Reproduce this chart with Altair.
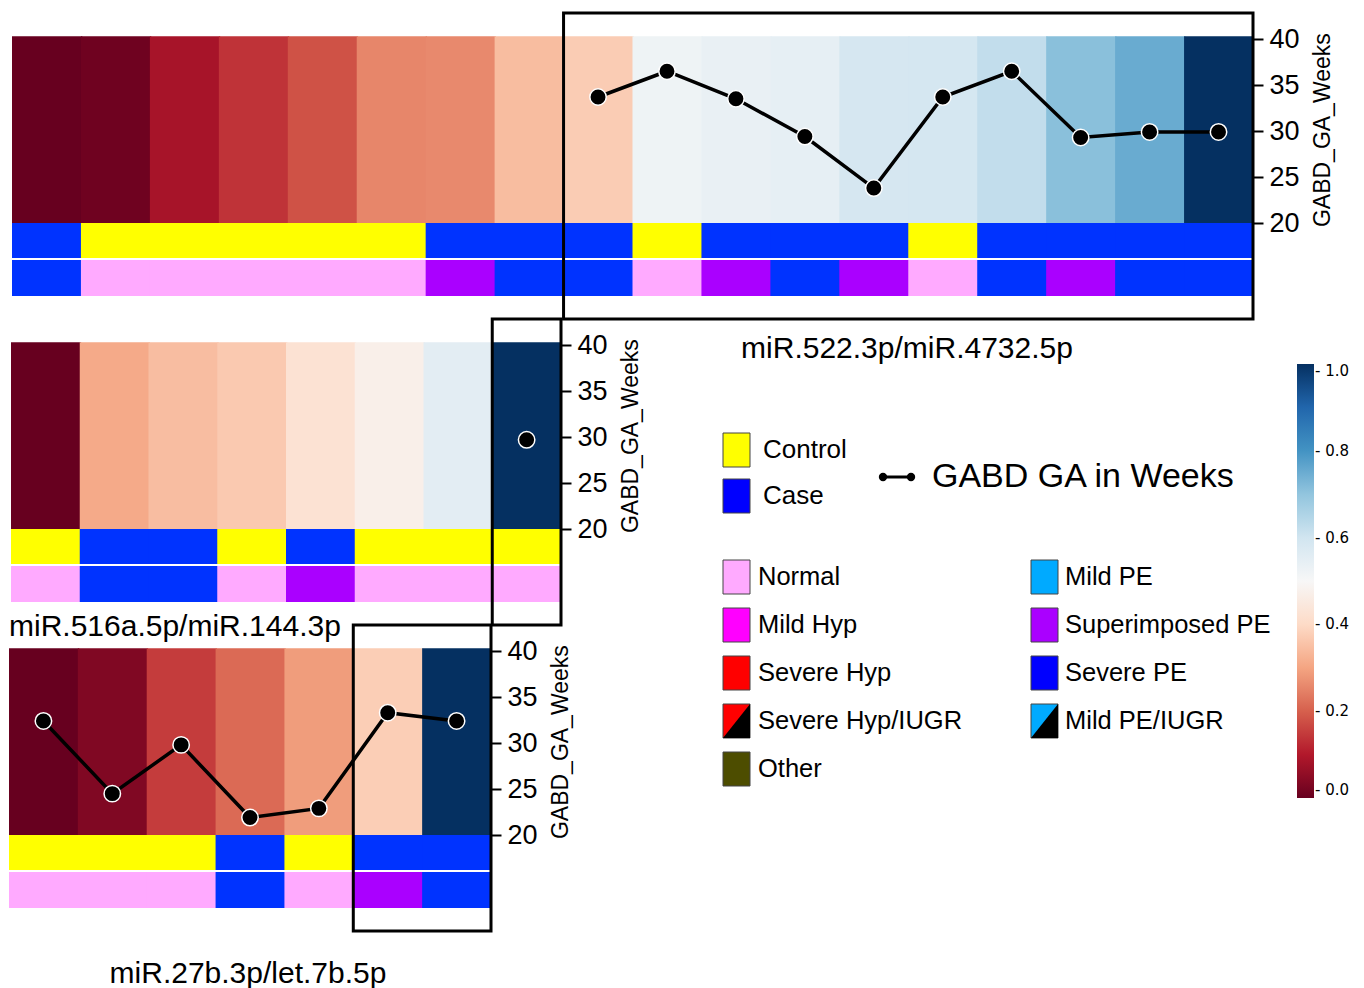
import altair as alt
import pandas as pd

# ---------------- data ----------------
P1_TITLE = "miR.522.3p/miR.4732.5p"
P1_HEAT = [0.0, 0.01, 0.085, 0.137, 0.18, 0.255, 0.26, 0.344, 0.372,
           0.524, 0.537, 0.545, 0.587, 0.59, 0.624, 0.71, 0.752, 1.0]
P1_GROUP = ["Case", "Control", "Control", "Control", "Control", "Control",
            "Case", "Case", "Case", "Control", "Case", "Case", "Case",
            "Control", "Case", "Case", "Case", "Case"]
P1_DIAG = ["Severe PE", "Normal", "Normal", "Normal", "Normal", "Normal",
           "Superimposed PE", "Severe PE", "Severe PE", "Normal",
           "Superimposed PE", "Severe PE", "Superimposed PE", "Normal",
           "Severe PE", "Superimposed PE", "Severe PE", "Severe PE"]
P1_GA = [None, None, None, None, None, None, None, None,
         33.7, 36.5, 33.5, 29.4, 23.8, 33.7, 36.5, 29.3, 29.9, 29.9]
P1_HIGHLIGHT = [9, 18]

P2_TITLE = "miR.516a.5p/miR.144.3p"
P2_HEAT = [0.0, 0.31, 0.345, 0.367, 0.425, 0.47, 0.553, 1.0]
P2_GROUP = ["Control", "Case", "Case", "Control", "Case", "Control", "Control", "Control"]
P2_DIAG = ["Normal", "Severe PE", "Severe PE", "Normal", "Superimposed PE",
           "Normal", "Normal", "Normal"]
P2_GA = [None, None, None, None, None, None, None, 29.7]
P2_HIGHLIGHT = [8, 8]

P3_TITLE = "miR.27b.3p/let.7b.5p"
P3_HEAT = [0.0, 0.033, 0.15, 0.215, 0.288, 0.375, 1.0]
P3_GROUP = ["Control", "Control", "Control", "Case", "Control", "Case", "Case"]
P3_DIAG = ["Normal", "Normal", "Normal", "Severe PE", "Normal", "Superimposed PE", "Severe PE"]
P3_GA = [32.4, 24.5, 29.8, 21.9, 22.9, 33.3, 32.4]
P3_HIGHLIGHT = [6, 7]

GA_TICKS = [20, 25, 30, 35, 40]
GA_AXIS_TITLE = "GABD_GA_Weeks"
CBAR_TICKS = [0.0, 0.2, 0.4, 0.6, 0.8, 1.0]

GROUP_LABELS = ["Control", "Case"]
DIAG_LABELS_LEFT = ["Normal", "Mild Hyp", "Severe Hyp", "Severe Hyp/IUGR", "Other"]
DIAG_LABELS_RIGHT = ["Mild PE", "Superimposed PE", "Severe PE", "Mild PE/IUGR"]
IUGR_LABELS = ["Severe Hyp/IUGR", "Mild PE/IUGR"]
LINE_LEGEND_LABEL = "GABD GA in Weeks"

# ---------------- styles ----------------
FONT = "Liberation Sans"
RDBU = ["#67001f", "#b2182b", "#d6604d", "#f4a582", "#fddbc7", "#f7f7f7",
        "#d1e5f0", "#92c5de", "#4393c3", "#2166ac", "#053061"]
RDBU_STOPS = [0.0, 0.1, 0.2, 0.3, 0.4, 0.5, 0.6, 0.7, 0.8, 0.9, 1.0]
STRIP_COLORS = {"Control": "#ffff00", "Case": "#0033ff", "Normal": "#ffaaff",
                "Severe PE": "#0033ff", "Superimposed PE": "#aa00ff"}
LEGEND_COLORS = {"Control": "#ffff00", "Case": "#0000ff", "Normal": "#ffaaff",
                 "Mild Hyp": "#ff00ff", "Severe Hyp": "#ff0000",
                 "Severe Hyp/IUGR": "#ff0000", "Other": "#4d4d00",
                 "Mild PE": "#00aaff", "Superimposed PE": "#aa00ff",
                 "Severe PE": "#0000ff", "Mild PE/IUGR": "#00aaff"}

# ---------------- layout ----------------
PANEL_H = 306
Y_DOMAIN = [9.57, 42.83]
HEAT_TOP, HEAT_BOT = 40.3, 20.0
STRIP1 = (20.0, 16.2)
STRIP2 = (15.98, 12.07)
OVERLAP = 0.02  # hides anti-aliasing seams between adjacent cells
PX_PER_UNIT = PANEL_H / (Y_DOMAIN[1] - Y_DOMAIN[0])
AXIS_TITLE_Y = (Y_DOMAIN[1] - (HEAT_TOP + HEAT_BOT) / 2) * PX_PER_UNIT

COLOR_LEGEND = alt.Legend(
    orient="none", legendX=1288, legendY=351, direction="vertical",
    gradientLength=434, gradientThickness=17, gradientStrokeWidth=0,
    title=None, values=CBAR_TICKS, format=".1f",
    labelExpr="'- ' + datum.label", labelOffset=1, labelBaseline="middle",
    labelFont="DejaVu Sans", labelFontSize=15, labelColor="black",
    labelOverlap=False,
)


def panel_layers(heat, group, diag, ga, hl, width, lpad):
    n = len(heat)
    df = pd.DataFrame({"col": list(range(1, n + 1)), "heat": heat,
                       "group": group, "diag": diag, "ga": ga})
    df["x0"] = df["col"] - 0.5
    df["x1"] = (df["col"] + 0.5 + OVERLAP).clip(upper=n + 0.5)
    df["gfill"] = df["group"].map(STRIP_COLORS)
    df["dfill"] = df["diag"].map(STRIP_COLORS)
    cw = (width - lpad) / n
    xs = alt.Scale(domain=[0.5 - lpad / cw, n + 0.5], nice=False, zero=False)
    ys = alt.Scale(domain=Y_DOMAIN, nice=False, zero=False)
    axis = alt.Axis(orient="right", values=GA_TICKS, title=GA_AXIS_TITLE,
                    titleAngle=270, titleBaseline="top", titlePadding=12,
                    titleY=AXIS_TITLE_Y,
                    titleFont=FONT, titleFontSize=23, titleFontWeight="normal",
                    titleColor="black", labelFont=FONT, labelFontSize=27,
                    labelColor="black", tickColor="black", tickWidth=2,
                    tickSize=10, labelPadding=6, domain=False, grid=False)
    base = alt.Chart(df)

    heat_l = base.mark_rect().encode(
        x=alt.X("x0:Q", scale=xs, axis=None), x2="x1",
        y=alt.YDatum(HEAT_TOP, scale=ys, axis=axis), y2=alt.Y2Datum(HEAT_BOT),
        color=alt.Color("heat:Q",
                        scale=alt.Scale(domain=RDBU_STOPS, range=RDBU, interpolate="rgb"),
                        legend=COLOR_LEGEND),
    )
    s1 = base.mark_rect().encode(
        x="x0:Q", x2="x1",
        y=alt.YDatum(STRIP1[0], scale=ys, axis=axis), y2=alt.Y2Datum(STRIP1[1]),
        fill=alt.Fill("gfill:N", scale=None),
    )
    s2 = base.mark_rect().encode(
        x="x0:Q", x2="x1",
        y=alt.YDatum(STRIP2[0], scale=ys, axis=axis), y2=alt.Y2Datum(STRIP2[1]),
        fill=alt.Fill("dfill:N", scale=None),
    )
    gab = base.transform_filter("isValid(datum.ga)")
    line = gab.mark_line(color="black", strokeWidth=3.5).encode(
        x="col:Q", y=alt.Y("ga:Q", scale=ys, axis=axis),
    )
    pts = gab.mark_circle(color="black", opacity=1, size=270, stroke="white",
                          strokeWidth=1.5).encode(
        x="col:Q", y=alt.Y("ga:Q", scale=ys, axis=axis))
    hl_df = pd.DataFrame({"x0": [hl[0] - 0.5], "x1": [hl[1] + 0.5]})
    hl_l = alt.Chart(hl_df).mark_rect(fill="transparent", stroke="black",
                                      strokeWidth=3).encode(
        x="x0:Q", x2="x1",
        y=alt.YDatum(Y_DOMAIN[1], scale=ys, axis=axis), y2=alt.Y2Datum(Y_DOMAIN[0]),
    )
    return alt.layer(heat_l, s1, s2, line, pts, hl_l)


def title_params(text, anchor, dx, offset, orient="bottom"):
    return alt.TitleParams(text=text, orient=orient, anchor=anchor,
                           frame="group", dx=dx, offset=offset, font=FONT,
                           fontSize=30, fontWeight="normal", color="black",
                           baseline="top")


# ---------------- legend layers (drawn to the right of the middle panel) ----------------
LEG_X0 = 692          # legend block left edge, relative to the middle panel
LEG_W, LEG_H = 600, 612
SW_W, SW_H = 27, 34
rows = []
for i, lab in enumerate(GROUP_LABELS):
    cy = 131 + i * 46
    rows.append(dict(label=lab, x0=22, cy=cy, tx=62, fs=26))
for i, lab in enumerate(DIAG_LABELS_LEFT):
    cy = 258 + i * 48
    rows.append(dict(label=lab, x0=22, cy=cy, tx=57, fs=25.5))
for i, lab in enumerate(DIAG_LABELS_RIGHT):
    cy = 258 + i * 48
    rows.append(dict(label=lab, x0=330, cy=cy, tx=364, fs=25.5))
leg = pd.DataFrame(rows)
leg["x1"] = leg["x0"] + SW_W
leg["y0"] = leg["cy"] - SW_H / 2
leg["y1"] = leg["cy"] + SW_H / 2
leg["xc"] = leg["x0"] + SW_W / 2
leg["fill"] = leg["label"].map(LEGEND_COLORS)

lxs = alt.Scale(domain=[0, LEG_W], range=[LEG_X0, LEG_X0 + LEG_W], nice=False, zero=False)
lys = alt.Scale(domain=[0, LEG_H], range=[0, LEG_H], nice=False, zero=False)
lbase = alt.Chart(leg)
sw = lbase.mark_rect(stroke="#444444", strokeWidth=1).encode(
    x=alt.X("x0:Q", scale=lxs, axis=None), x2="x1",
    y=alt.Y("y0:Q", scale=lys, axis=None), y2="y1",
    fill=alt.Fill("fill:N", scale=None),
)
r = SW_W / SW_H
TRI = f"M {r:.3f} -1 L {r:.3f} 1 L {-r:.3f} 1 Z"
tri = lbase.transform_filter(
    alt.FieldOneOfPredicate(field="label", oneOf=IUGR_LABELS)
).mark_point(shape=TRI, filled=True, color="black", opacity=1,
             size=SW_H ** 2, strokeWidth=0).encode(
    x=alt.X("xc:Q", scale=lxs, axis=None), y=alt.Y("cy:Q", scale=lys, axis=None))
txt = lbase.mark_text(align="left", baseline="middle", font=FONT,
                      color="black").encode(
    x=alt.X("tx:Q", scale=lxs, axis=None), y=alt.Y("cy:Q", scale=lys, axis=None),
    text="label:N", size=alt.Size("fs:Q", scale=None),
)
ga_leg = pd.DataFrame({"x": [182, 210], "y": [158, 158]})
ga_line = alt.Chart(ga_leg).mark_line(color="black", strokeWidth=3).encode(
    x=alt.X("x:Q", scale=lxs, axis=None), y=alt.Y("y:Q", scale=lys, axis=None))
ga_pts = alt.Chart(ga_leg).mark_circle(color="black", opacity=1, size=70).encode(
    x=alt.X("x:Q", scale=lxs, axis=None), y=alt.Y("y:Q", scale=lys, axis=None))
ga_txt = alt.Chart(pd.DataFrame({"label": [LINE_LEGEND_LABEL], "x": [231], "y": [158]})).mark_text(
    align="left", baseline="middle", font=FONT, fontSize=34, color="black"
).encode(x=alt.X("x:Q", scale=lxs, axis=None), y=alt.Y("y:Q", scale=lys, axis=None),
         text="label:N")
legend_layers = alt.layer(sw, tri, txt, ga_line, ga_pts, ga_txt)

# ---------------- panels ----------------
p1 = panel_layers(P1_HEAT, P1_GROUP, P1_DIAG, P1_GA, P1_HIGHLIGHT, 1244, 3).properties(
    width=1244, height=PANEL_H, title=title_params(P1_TITLE, "middle", 276, 13))
p2 = alt.layer(
    panel_layers(P2_HEAT, P2_GROUP, P2_DIAG, P2_GA, P2_HIGHLIGHT, 552, 2),
    legend_layers,
).resolve_scale(x="independent", y="independent").properties(
    width=552, height=PANEL_H,
    title=title_params(P2_TITLE, "start", 0, -(PANEL_H + 18), orient="top"))
p3 = panel_layers(P3_HEAT, P3_GROUP, P3_DIAG, P3_GA, P3_HIGHLIGHT, 482, 0).properties(
    width=482, height=PANEL_H, title=title_params(P3_TITLE, "middle", -2, 26))

chart = alt.vconcat(p1, p2, p3, spacing=0, bounds="flush").properties(
    padding={"left": 0, "top": 3, "right": 5, "bottom": 5}
).resolve_scale(color="shared").configure(
    font=FONT, background="white").configure_view(stroke="transparent")

chart.save("out.html", embed_options={"renderer": "svg", "actions": False})
